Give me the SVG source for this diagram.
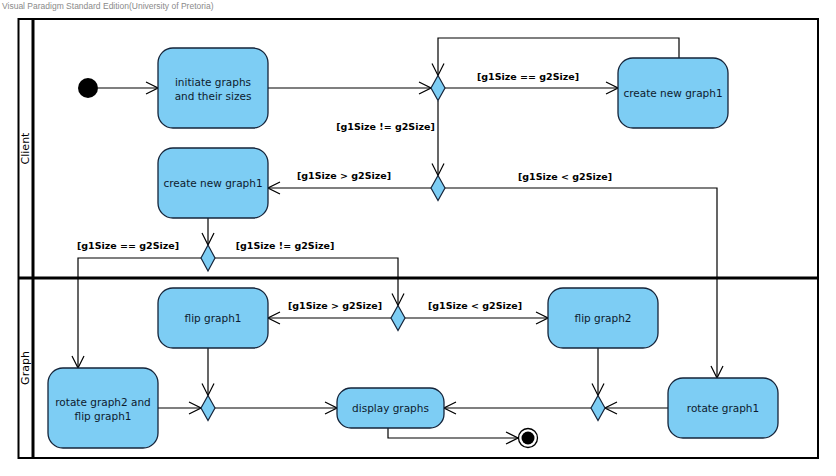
<svg xmlns="http://www.w3.org/2000/svg" width="836" height="476" viewBox="0 0 836 476">
<defs>
<marker id="arr" markerUnits="userSpaceOnUse" markerWidth="14" markerHeight="14" viewBox="0 0 14 14" refX="13" refY="7" orient="auto">
<path d="M1,1 L13,7 L1,13" fill="none" stroke="#000" stroke-width="1.2"/>
</marker>
</defs>
<style>
.node{fill:#7dcdf4;stroke:#15243a;stroke-width:1.3}
.dia{fill:#7dcdf4;stroke:#15243a;stroke-width:1.2}
.nt{font-family:"DejaVu Sans",sans-serif;font-size:10.5px;fill:#0d1b2e;text-anchor:middle}
.lbl{font-family:"DejaVu Sans",sans-serif;font-size:9.5px;font-weight:bold;fill:#000;text-anchor:middle}
.lane{font-family:"DejaVu Sans",sans-serif;font-size:11px;fill:#000;text-anchor:middle}
.c{fill:none;stroke:#000;stroke-width:1.2;marker-end:url(#arr)}
</style>
<rect width="836" height="476" fill="#fff"/>
<text x="2" y="9" font-family="'Liberation Sans',sans-serif" font-size="8.5" fill="#8a8a8a">Visual Paradigm Standard Edition(University of Pretoria)</text>
<g id="frame">
<rect x="18.5" y="19" width="799.5" height="439" fill="none" stroke="#000" stroke-width="2"/>
<line x1="33" y1="19" x2="33" y2="458" stroke="#000" stroke-width="3"/>
<line x1="18.5" y1="278" x2="818" y2="278" stroke="#000" stroke-width="3"/>
<text class="lane" transform="translate(29,148.5) rotate(-90)">Client</text>
<text class="lane" transform="translate(29,368) rotate(-90)">Graph</text>
</g>
<g id="connectors">
<path class="c" d="M98,88 L158,88"/>
<path class="c" d="M268,88 L431,88"/>
<path class="c" d="M445,88 L618,88"/>
<path class="c" d="M679,58 L679,38 L438,38 L438,75.5"/>
<path class="c" d="M438,100.5 L438,175.5"/>
<path class="c" d="M431,188 L268,188"/>
<path class="c" d="M445,188 L717,188 L717,378"/>
<path class="c" d="M208,218 L208,245"/>
<path class="c" d="M201,258 L78,258 L78,368"/>
<path class="c" d="M215,258 L398,258 L398,305.5"/>
<path class="c" d="M391,318 L268,318"/>
<path class="c" d="M405,318 L548,318"/>
<path class="c" d="M208,348 L208,395.5"/>
<path class="c" d="M158,408 L201,408"/>
<path class="c" d="M215,408 L337,408"/>
<path class="c" d="M598,348 L598,395.5"/>
<path class="c" d="M668,408 L605,408"/>
<path class="c" d="M591,408 L444,408"/>
<path class="c" d="M388,428 L388,438 L518,438"/>
<text class="lbl" x="528" y="80">[g1Size == g2Size]</text>
<text class="lbl" x="385.5" y="130">[g1Size != g2Size]</text>
<text class="lbl" x="344" y="178.5">[g1Size &gt; g2Size]</text>
<text class="lbl" x="565" y="180">[g1Size &lt; g2Size]</text>
<text class="lbl" x="128" y="248.5">[g1Size == g2Size]</text>
<text class="lbl" x="285" y="248.5">[g1Size != g2Size]</text>
<text class="lbl" x="335" y="308.5">[g1Size &gt; g2Size]</text>
<text class="lbl" x="475" y="308.5">[g1Size &lt; g2Size]</text>
</g>
<g id="initial"><circle cx="88" cy="88" r="10" fill="#000"/></g>
<g id="initiate"><rect class="node" x="158" y="48" width="110" height="80" rx="15"/>
<text class="nt" x="213" y="85.5">initiate graphs</text><text class="nt" x="213" y="99.5">and their sizes</text></g>
<g id="d1"><polygon class="dia" points="438,75.5 445,88 438,100.5 431,88"/></g>
<g id="create1a"><rect class="node" x="618" y="58" width="110" height="70" rx="15"/>
<text class="nt" x="673" y="97">create new graph1</text></g>
<g id="d2"><polygon class="dia" points="438,175.5 445,188 438,200.5 431,188"/></g>
<g id="create1b"><rect class="node" x="158" y="148" width="110" height="70" rx="15"/>
<text class="nt" x="213" y="187">create new graph1</text></g>
<g id="d3"><polygon class="dia" points="208,245 215,258 208,271 201,258"/></g>
<g id="d4"><polygon class="dia" points="398,305.5 405,318 398,330.5 391,318"/></g>
<g id="flip1"><rect class="node" x="158" y="288" width="110" height="60" rx="15"/>
<text class="nt" x="213" y="322">flip graph1</text></g>
<g id="flip2"><rect class="node" x="548" y="288" width="110" height="60" rx="15"/>
<text class="nt" x="603" y="322">flip graph2</text></g>
<g id="rot2"><rect class="node" x="48" y="368" width="110" height="80" rx="15"/>
<text class="nt" x="103" y="405.5">rotate graph2 and</text><text class="nt" x="103" y="419.5">flip graph1</text></g>
<g id="d5"><polygon class="dia" points="208,395.5 215,408 208,420.5 201,408"/></g>
<g id="display"><rect class="node" x="337" y="388" width="107" height="40" rx="14"/>
<text class="nt" x="390.5" y="412">display graphs</text></g>
<g id="d6"><polygon class="dia" points="598,395.5 605,408 598,420.5 591,408"/></g>
<g id="rot1"><rect class="node" x="668" y="378" width="110" height="60" rx="15"/>
<text class="nt" x="723" y="412">rotate graph1</text></g>
<g id="final"><circle cx="528" cy="438" r="9.5" fill="#fff" stroke="#000" stroke-width="1.3"/><circle cx="528" cy="438" r="6.5" fill="#000"/></g>
</svg>
